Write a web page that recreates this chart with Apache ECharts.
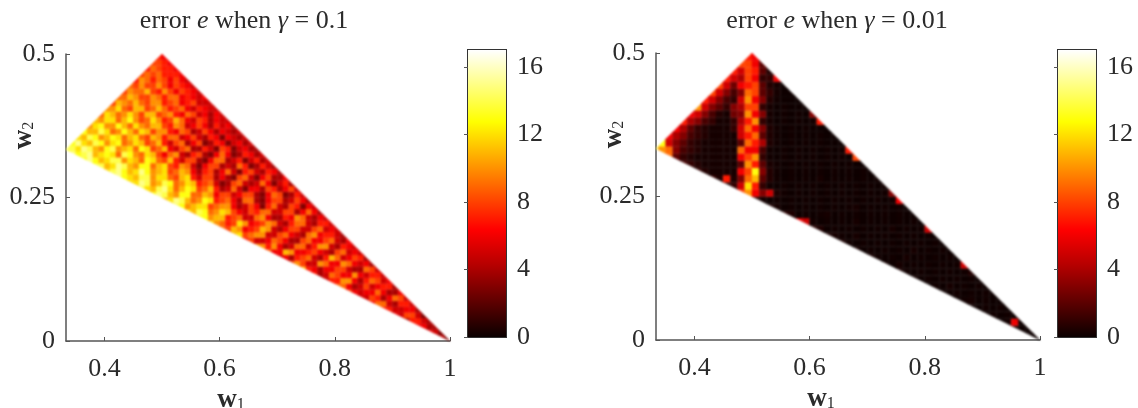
<!DOCTYPE html>
<html>
<head>
<meta charset="utf-8">
<style>html,body{margin:0;padding:0;background:#fff}#c{width:1138px;height:408px}</style>
<script src="https://cdn.jsdelivr.net/npm/echarts@6/dist/echarts.min.js"></script>
</head>
<body>
<div id="c"></div>
<script>
// The feasible triangle (w1,w2)
var triangle = [[1/3,1/3],[1,0],[0.5,0.5]];
var xTicks = [0.4,0.6,0.8,1];
var barTicks = [0,4,8,12,16];
var hotStops = ['#0a0000','#600000','#b50000','#ff0000','#ff5500','#ffaa00','#ffff00','#ffff80','#ffffff'];

// Left panel: cell size, first column of each row, then values read row by row, bottom to top
var leftStep = 0.01;
var leftRowStart = [98,96,94,92,90,88,86,84,82,80,78,76,74,72,70,68,66,64,62,60,58,56,54,52,50,48,46,44,42,40,38,36,34,33,34,35,36,37,38,39,40,41,42,43,44,45,46,47,48,49];
var errorGamma01 = [
[5,3],
[6,5,3],
[6,6,4,4],
[4,7,7,5,4],
[6,5,8,8,5,3],
[7,7,5,5,6,6,4],
[6,9,9,5,4,7,7,5],
[5,5,8,7,4,6,9,8,5],
[8,6,5,6,6,9,6,4,4,6],
[9,9,6,4,5,8,5,6,7,7,4],
[5,7,7,10,10,6,4,7,9,8,5,6],
[7,4,5,9,8,6,6,10,6,5,7,7,5],
[11,7,6,4,6,6,8,8,5,4,4,9,8,5],
[8,10,8,5,5,10,9,6,6,10,9,6,5,6,4],
[5,6,4,7,8,9,5,4,7,11,9,5,6,8,7,4],
[9,6,6,11,10,6,6,7,8,6,5,4,8,9,5,6,5],
[10,10,7,10,6,4,5,9,9,5,7,10,10,5,4,7,6,5],
[7,8,5,5,6,9,8,6,4,4,8,9,6,6,8,9,5,4,6],
[11,12,8,9,10,10,5,5,8,9,6,5,4,9,10,6,7,7,5,4],
[9,8,11,10,6,7,8,11,10,5,4,6,8,8,5,5,8,9,5,6,5],
[12,10,9,7,8,12,10,6,7,8,10,9,5,4,7,9,9,5,4,7,7,5],
[13,13,10,11,11,7,8,9,5,5,9,10,6,4,4,7,6,10,9,5,4,6,5],
[12,11,14,13,9,10,12,11,8,6,5,8,7,9,9,5,5,8,8,4,6,9,6,4],
[14,13,10,11,12,12,8,9,10,10,6,4,5,8,6,3,7,9,5,4,8,7,3,6,5],
[11,12,15,14,11,9,10,13,12,7,8,9,6,4,9,9,4,3,6,8,8,4,5,8,6,4],
[13,15,14,11,10,13,13,9,9,11,10,6,8,8,5,6,8,8,4,3,6,9,8,3,4,7,5],
[14,12,11,14,15,12,9,11,13,12,8,9,11,7,4,5,9,5,3,6,6,4,8,7,4,6,8,5],
[12,12,15,14,10,11,14,13,9,10,12,11,7,8,9,5,3,4,8,9,5,4,5,9,6,3,5,7,4],
[15,13,12,11,14,14,10,12,12,9,8,11,12,7,5,8,8,4,6,4,3,8,9,5,3,6,8,4,4,6],
[12,14,15,13,11,12,15,13,10,11,12,8,9,11,10,6,4,7,8,4,6,9,5,3,7,8,5,4,7,6,4],
[14,14,11,12,15,14,11,10,13,13,9,11,12,8,7,10,9,5,3,6,8,8,4,5,4,9,7,3,4,7,5,4],
[13,15,13,11,12,14,14,10,12,11,9,13,12,9,8,11,7,5,8,8,4,3,6,9,9,4,5,7,3,5,7,4,5],
[15,13,14,15,11,12,13,12,9,14,13,10,9,12,11,8,6,9,10,5,4,7,8,4,3,6,9,6,3,4,7,6,4,5],
[14,14,12,15,14,11,10,13,14,10,11,12,9,13,12,8,9,11,6,5,8,9,4,4,7,5,3,8,7,3,5,6,4,4],
[13,15,12,11,14,13,10,12,13,9,10,12,11,8,9,11,7,5,8,9,4,6,8,3,4,7,6,3,5,6,4,5],
[12,11,14,13,10,11,13,12,9,11,12,9,8,11,10,7,9,9,5,6,8,5,4,7,6,3,6,5,4,5],
[13,11,11,14,12,9,10,13,11,9,12,11,8,10,10,7,6,9,8,4,5,8,6,4,6,5,4,5],
[10,12,13,10,10,13,11,9,12,10,9,11,11,8,7,10,9,5,6,8,6,4,7,5,6,4],
[11,10,12,12,9,11,13,10,8,9,12,10,7,8,11,9,6,5,8,7,4,6,5,5],
[9,12,11,9,10,12,10,8,11,11,8,9,10,7,6,9,8,5,6,4,6,5],
[10,10,12,9,8,11,11,8,9,11,9,7,8,9,6,5,7,6,5,5],
[8,11,10,9,11,9,8,10,10,7,8,9,6,7,8,5,5,5],
[9,9,11,10,8,8,10,9,7,9,9,6,7,6,5,6],
[8,10,9,9,11,8,7,10,8,6,8,7,6,5],
[9,8,10,8,8,10,8,6,8,7,6,5],
[7,10,9,7,9,8,6,8,6,5],
[8,9,8,9,7,7,7,6],
[7,9,8,7,7,6],
[8,8,7,6],
[7,6]
];

// Right panel: cell size, first column of each row, then values read row by row, bottom to top
var rightStep = 0.0125;
var rightRowStart = [78,76,74,72,70,68,66,64,62,60,58,56,54,52,50,48,46,44,42,40,38,36,34,32,30,28,26,27,28,29,30,31,32,33,34,35,36,37,38,39];
var errorGamma001 = [
[.1,.1],
[.4,.1,.1],
[.1,.2,6,.1],
[.1,.2,.1,.2,.1],
[.2,.1,.2,.1,.2,.1],
[.1,.2,.3,.1,.2,.1,.1],
[.2,.1,.2,.1,.2,.1,.2,.1],
[.1,.2,.1,.3,.1,.2,.1,.2,.1],
[.3,.1,.2,.1,.2,.1,.2,.1,.2,.1],
[.4,.2,.1,.2,.1,.2,.1,.2,.1,.2,.6],
[.3,.1,.3,.1,.2,.1,.2,.1,.2,.1,.2,5],
[.4,.2,.1,.2,.1,.3,.1,.2,.1,.2,.1,.2,.1],
[.4,.1,.2,.1,.2,.1,.2,.1,.3,.1,.2,.1,.2,.1],
[.5,.2,.1,.2,.1,.2,.1,.2,.1,.2,.1,.2,.1,.2,.1],
[.5,.3,.2,.1,.3,.1,.2,.1,.2,.1,.2,.1,.2,.1,.2,.1],
[.8,.5,.1,.2,.1,.2,.1,.2,.1,.2,.1,.3,.1,.2,.1,.2,5],
[6,5,.2,.1,.2,.1,.2,.1,.3,.1,.2,.1,.2,.1,.2,.1,.2,.1],
[.8,.5,.1,.2,.1,.2,.3,.1,.2,.1,.2,.1,.2,.1,.2,.1,.2,.1,.1],
[.5,.3,.1,.2,.1,.2,.1,.2,.1,.2,.1,.2,.3,.1,.2,.1,.2,.1,.2,.1],
[.8,.3,.1,.2,.1,.2,.1,.2,.1,.2,.1,.2,.1,.2,.1,.2,.1,.2,.1,.2,6],
[8,10,6,3,5,.5,.2,.1,.2,.1,.2,.1,.2,.1,.2,.1,.2,.1,.2,.1,.2,3],
[.5,1,5,12,7,1,.2,.1,.2,.1,.2,.1,.2,.1,.2,.1,.2,.1,.2,.1,.2,.1,.2],
[1,.5,7,.5,3,9,11,2,.6,.2,.1,.2,.1,.2,.1,.3,.1,.2,.1,.2,.1,.2,.1,.2],
[1,.6,.3,.3,.3,.3,6,8,13,3,.6,.2,.1,.2,.1,.2,.1,.2,.1,.2,.1,.2,.1,.2,.1],
[1.5,1,.6,.3,.3,.3,.3,.3,2,10,7,2,.4,.2,.1,.2,.1,.2,.1,.2,.1,.2,.1,.2,.1,.1],
[9,2,1,.6,.3,.3,.3,.3,.3,.3,6,8,10,1,.2,.1,.2,.1,.2,.1,.2,.1,.2,.1,.2,.1,8],
[14,10,9,3,1.5,1,.6,.3,.3,.3,.3,.3,9,6,6,1.5,.2,.1,.2,.1,.2,.1,.2,.1,.2,.1,.2,7],
[13,5,3,2,1,.6,.3,.3,.3,.3,.3,2,9,7,4,.5,.2,.1,.2,.1,.2,.1,.2,.1,.1,.1],
[6,4,3,1.5,1,.6,.3,.3,.3,.3,5,7,9,2,.5,.2,.1,.2,.1,.2,.1,.2,.1,.1],
[6,4,2,1,.6,.3,.3,.3,1,5,9,6,3,.5,.2,.1,.2,.1,.2,.1,.1,.1],
[7,4,3,1.5,1,.3,.3,1,4,7,10,1,.3,.1,.2,.1,.2,.1,.2,7],
[6,5,3,1.5,.6,.3,2.5,3,10,6,3,.3,.1,.2,.1,.2,.1,3],
[10,5,3,2,1,3,4,8,8,1,.3,.1,.2,.1,.1,.1],
[7,5,3,1.5,1,5,10,6,3,.6,.2,.1,.1,.1],
[8,5,3,1.5,3,9,8,2,1,.3,.1,.1],
[8,5,2.5,6,7,8,2,.6,.3,.1],
[7,5,4,8,6,1,1,6],
[7,5,8,7,2,.6],
[8,8,6,2],
[7,6]
];

function cellsOf(rows,starts,step){
  var out = [];
  rows.forEach(function(vals,j){
    vals.forEach(function(v,k){ out.push([(starts[j]+k)*step, j*step, v]); });
  });
  return out;
}
// Clip a cell rectangle to the feasible triangle (data coordinates)
function clipToTriangle(poly){
  var n = triangle.length;
  for(var e=0;e<n && poly.length;e++){
    var a=triangle[e], b=triangle[(e+1)%n], res=[];
    var side=function(p){return (b[0]-a[0])*(p[1]-a[1])-(b[1]-a[1])*(p[0]-a[0]);};
    for(var i=0;i<poly.length;i++){
      var p=poly[i], q=poly[(i+1)%poly.length], sp=side(p), sq=side(q);
      if(sp>=0) res.push(p);
      if(sp*sq<0){var t=sp/(sp-sq);res.push([p[0]+t*(q[0]-p[0]),p[1]+t*(q[1]-p[1])]);}
    }
    poly=res;
  }
  return poly;
}
function cellRenderer(step){
  return function(params,api){
    var x=api.value(0), y=api.value(1);
    var poly=clipToTriangle([[x,y],[x+step,y],[x+step,y+step],[x,y+step]]);
    if(poly.length<3) return null;
    var color=api.visual('color');
    return {type:'polygon',shape:{points:poly.map(function(p){return api.coord(p);})},
      style:{fill:color,stroke:color,lineWidth:0.4},silent:true};
  };
}
function renderBar(params,api){
  var p0=api.coord([0,api.value(0)]), p1=api.coord([1,api.value(1)]);
  var stops=hotStops.map(function(c,i){return {offset:1-i/(hotStops.length-1),color:c};}).reverse();
  return {type:'rect',shape:{x:p0[0],y:p1[1],width:p1[0]-p0[0],height:p0[1]-p1[1]},
    style:{fill:new echarts.graphic.LinearGradient(0,0,0,1,stops)},silent:true};
}

var serif='"Liberation Serif","DejaVu Serif",serif', ink='#2b2b2b', line='#555555';
var nameRich={b:{fontFamily:serif,fontWeight:'bold',fontSize:27,color:ink},
  s:{fontFamily:serif,fontSize:16,color:ink,padding:[9,0,0,0]}};
function plotX(idx){return {gridIndex:idx,type:'value',min:1/3,max:1,
  name:'{b|w}{s|1}',nameLocation:'middle',nameGap:38,nameTextStyle:{rich:nameRich,padding:[0,54,0,0]},
  splitLine:{show:false},axisLine:{onZero:false,lineStyle:{color:line,width:1.5}},
  axisTick:{inside:true,length:4,lineStyle:{color:line},customValues:xTicks},
  axisLabel:{fontFamily:serif,fontSize:26,color:ink,margin:15,customValues:xTicks,
    formatter:function(v){return String(v);}}};}
function plotY(idx){return {gridIndex:idx,type:'value',min:0,max:0.5,interval:0.25,
  name:'{b|w}{s|2}',nameLocation:'middle',nameGap:28,nameMoveOverlap:false,nameTextStyle:{rich:nameRich,padding:[0,0,0,124]},
  splitLine:{show:false},axisLine:{onZero:false,lineStyle:{color:line,width:1.5}},
  axisTick:{inside:true,length:4,lineStyle:{color:line}},
  axisLabel:{fontFamily:serif,fontSize:26,color:ink,margin:11}};}
function barX(idx){return {gridIndex:idx,type:'value',min:0,max:1,show:false};}
function barY(idx){return {gridIndex:idx,type:'value',min:0,max:17,interval:4,position:'right',
  splitLine:{show:false},axisLine:{show:false},
  axisTick:{inside:true,length:4,lineStyle:{color:line},customValues:barTicks},
  axisLabel:{fontFamily:serif,fontSize:26,color:ink,margin:11,customValues:barTicks}};}
function titleOf(cx,top,g){return {text:'error {i|e} when {i|\u03b3} = '+g,left:cx,top:top,textAlign:'center',
  textStyle:{fontFamily:serif,fontSize:26,fontWeight:'normal',color:ink,
    rich:{i:{fontFamily:serif,fontStyle:'italic',fontSize:26,color:ink}}}};}

var chart=echarts.init(document.getElementById('c'),null,{renderer:'canvas'});
chart.setOption({
  animation:false,
  title:[titleOf(239,3,'0.1'),titleOf(832,3,'0.01')],
  grid:[
    {left:66,top:54,width:384,height:287,outerBoundsMode:'none'},
    {left:468,top:50,width:38,height:287,show:true,borderColor:'#333',borderWidth:2,backgroundColor:'transparent',outerBoundsMode:'none'},
    {left:656,top:53,width:384,height:287,outerBoundsMode:'none'},
    {left:1058,top:50,width:38,height:287,show:true,borderColor:'#333',borderWidth:2,backgroundColor:'transparent',outerBoundsMode:'none'}
  ],
  xAxis:[plotX(0),barX(1),plotX(2),barX(3)],
  yAxis:[plotY(0),barY(1),plotY(2),barY(3)],
  visualMap:{show:false,type:'continuous',seriesIndex:[0,1],dimension:2,min:0,max:17,inRange:{color:hotStops}},
  series:[
    {type:'custom',zlevel:1,xAxisIndex:0,yAxisIndex:0,data:cellsOf(errorGamma01,leftRowStart,leftStep),renderItem:cellRenderer(leftStep),encode:{x:0,y:1},clip:false},
    {type:'custom',zlevel:1,xAxisIndex:2,yAxisIndex:2,data:cellsOf(errorGamma001,rightRowStart,rightStep),renderItem:cellRenderer(rightStep),encode:{x:0,y:1},clip:false},
    {type:'custom',xAxisIndex:1,yAxisIndex:1,data:[[0,17]],renderItem:renderBar,encode:{y:[0,1]},z:0},
    {type:'custom',xAxisIndex:3,yAxisIndex:3,data:[[0,17]],renderItem:renderBar,encode:{y:[0,1]},z:0}
  ]
});
// The reference image is soft: soften only the canvas layer holding the two heat triangles.
var canvases=document.querySelectorAll('#c canvas');
if(canvases.length>1){canvases[1].style.filter='blur(1.2px)';}
</script>
</body>
</html>
